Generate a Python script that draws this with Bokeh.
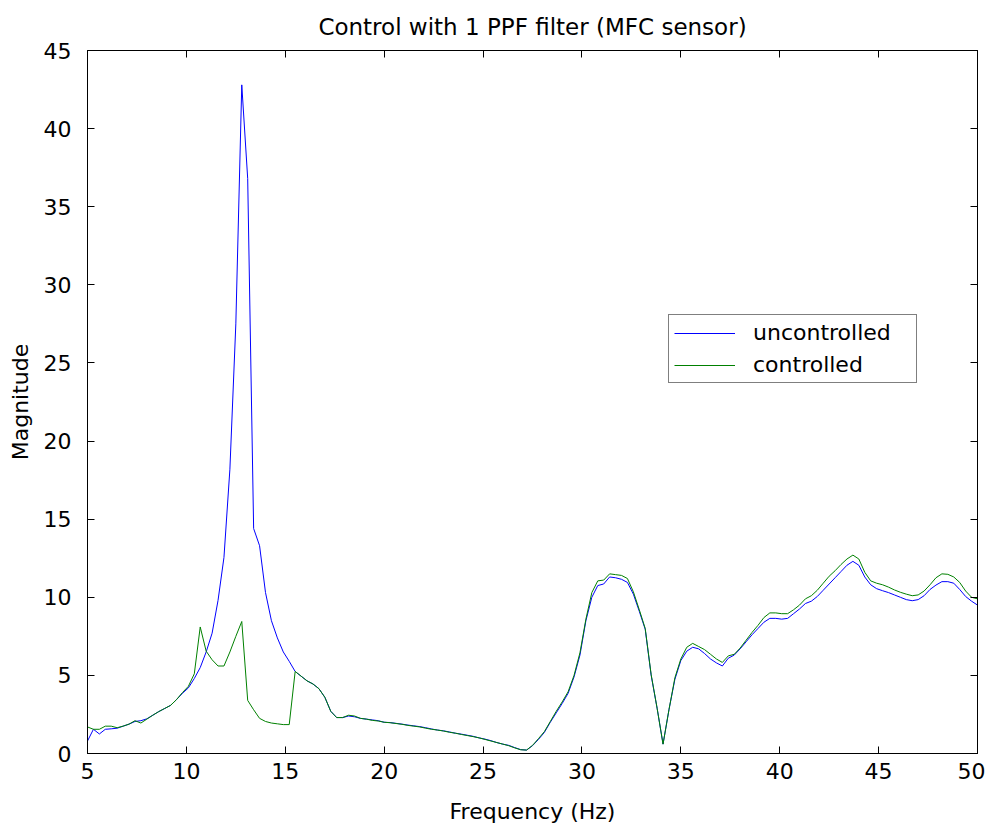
from bokeh.plotting import figure
from bokeh.models import Range1d, LinearAxis, FixedTicker, Legend, LegendItem
from bokeh.embed import file_html
from bokeh.resources import INLINE

title_text = "Control with 1 PPF filter (MFC sensor)"
x_label = "Frequency (Hz)"
y_label = "Magnitude"
x_min, x_max = 5, 50
y_min, y_max = 0, 45
x_ticks = [5, 10, 15, 20, 25, 30, 35, 40, 45, 50]
y_ticks = [0, 5, 10, 15, 20, 25, 30, 35, 40, 45]

frequency = [
    5.0, 5.3, 5.6, 5.9, 6.2, 6.5, 6.8, 7.1, 7.4, 7.7,
    8.0, 8.3, 8.6, 8.9, 9.2, 9.5, 9.8, 10.1, 10.4, 10.7,
    11.0, 11.3, 11.6, 11.9, 12.2, 12.5, 12.8, 13.1, 13.4, 13.7,
    14.0, 14.3, 14.6, 14.9, 15.2, 15.5, 15.8, 16.1, 16.4, 16.7,
    17.0, 17.3, 17.6, 17.9, 18.2, 18.5, 18.8, 19.1, 19.4, 19.7,
    20.0, 20.3, 20.6, 20.9, 21.2, 21.5, 21.8, 22.1, 22.4, 22.7,
    23.0, 23.3, 23.6, 23.9, 24.2, 24.5, 24.8, 25.1, 25.4, 25.7,
    26.0, 26.3, 26.6, 26.9, 27.2, 27.5, 27.8, 28.1, 28.4, 28.7,
    29.0, 29.3, 29.6, 29.9, 30.2, 30.5, 30.8, 31.1, 31.4, 31.7,
    32.0, 32.3, 32.6, 32.9, 33.2, 33.5, 33.8, 34.1, 34.4, 34.7,
    35.0, 35.3, 35.6, 35.9, 36.2, 36.5, 36.8, 37.1, 37.4, 37.7,
    38.0, 38.3, 38.6, 38.9, 39.2, 39.5, 39.8, 40.1, 40.4, 40.7,
    41.0, 41.3, 41.6, 41.9, 42.2, 42.5, 42.8, 43.1, 43.4, 43.7,
    44.0, 44.3, 44.6, 44.9, 45.2, 45.5, 45.8, 46.1, 46.4, 46.7,
    47.0, 47.3, 47.6, 47.9, 48.2, 48.5, 48.8, 49.1, 49.4, 49.7,
    50.0,
]

uncontrolled = [
    0.8, 1.55, 1.25, 1.55, 1.58, 1.62, 1.75, 1.88, 2.05, 2.1,
    2.22, 2.45, 2.68, 2.88, 3.08, 3.45, 3.85, 4.2, 4.8, 5.5,
    6.5, 7.7, 9.8, 12.55, 18.2, 27.5, 42.8, 36.8, 14.4, 13.3,
    10.3, 8.5, 7.4, 6.5, 5.9, 5.25, 4.95, 4.65, 4.45, 4.15,
    3.6, 2.7, 2.3, 2.3, 2.4, 2.35, 2.25, 2.2, 2.15, 2.1,
    2.0, 1.98, 1.93, 1.88, 1.82, 1.77, 1.72, 1.65, 1.57, 1.5,
    1.45, 1.38, 1.3, 1.24, 1.17, 1.1, 1.0, 0.92, 0.82, 0.7,
    0.6, 0.52, 0.38, 0.25, 0.22, 0.5, 0.9, 1.35, 2.0, 2.6,
    3.2, 3.85, 4.9, 6.3, 8.5, 10.0, 10.75, 10.85, 11.3, 11.25,
    11.15, 10.95, 10.2, 9.1, 7.95, 5.0, 2.9, 0.6, 2.8, 4.75,
    5.95, 6.55, 6.8, 6.7, 6.4, 6.05, 5.8, 5.6, 6.1, 6.3,
    6.7, 7.15, 7.6, 8.0, 8.4, 8.65, 8.65, 8.6, 8.65, 8.95,
    9.25, 9.6, 9.75, 10.05, 10.45, 10.85, 11.25, 11.65, 12.05, 12.3,
    12.05, 11.3, 10.8, 10.55, 10.42, 10.3, 10.15, 10.0, 9.85, 9.78,
    9.85, 10.1, 10.5, 10.78, 11.0, 11.0, 10.9, 10.5, 10.05, 9.75,
    9.5,
]

controlled = [
    1.7, 1.55, 1.55, 1.75, 1.75, 1.65, 1.75, 1.88, 2.1, 1.95,
    2.2, 2.45, 2.68, 2.88, 3.08, 3.45, 3.9, 4.3, 5.1, 8.1,
    6.55, 6.0, 5.6, 5.6, 6.5, 7.5, 8.45, 3.4, 2.8, 2.25,
    2.05, 1.95, 1.9, 1.85, 1.85, 5.25, 4.95, 4.65, 4.45, 4.15,
    3.6, 2.7, 2.3, 2.3, 2.45, 2.4, 2.25, 2.2, 2.12, 2.08,
    2.0, 1.97, 1.92, 1.87, 1.8, 1.75, 1.7, 1.62, 1.55, 1.5,
    1.44, 1.36, 1.3, 1.22, 1.15, 1.08, 1.0, 0.9, 0.8, 0.7,
    0.6, 0.5, 0.36, 0.24, 0.22, 0.52, 0.95, 1.4, 2.05, 2.7,
    3.3, 3.95, 5.0, 6.45, 8.6, 10.3, 11.05, 11.1, 11.5, 11.45,
    11.4, 11.2, 10.35, 9.2, 8.0, 5.05, 2.9, 0.6, 2.8, 4.85,
    6.05, 6.8, 7.05, 6.85, 6.65, 6.35, 6.05, 5.83, 6.25, 6.35,
    6.75, 7.25, 7.75, 8.2, 8.7, 9.0, 9.0, 8.95, 8.95, 9.2,
    9.5, 9.9, 10.1, 10.45, 10.9, 11.35, 11.7, 12.1, 12.45, 12.7,
    12.45, 11.6, 11.05, 10.9, 10.8, 10.65, 10.47, 10.32, 10.2, 10.1,
    10.15, 10.4, 10.8, 11.25, 11.5, 11.47, 11.3, 10.95, 10.4, 10.0,
    9.9,
]

FONT = "DejaVu Sans"
FS = "22px"

p = figure(
    width=985, height=826,
    x_range=Range1d(x_min, x_max), y_range=Range1d(y_min, y_max),
    output_backend="svg", toolbar_location=None,
    min_border_left=87, min_border_right=8, min_border_top=50, min_border_bottom=73,
    title=title_text,
)
p.background_fill_color = "white"
p.border_fill_color = "white"
p.outline_line_color = "black"
p.xgrid.visible = False
p.ygrid.visible = False

p.title.text_font = FONT
p.title.text_font_size = "23px"
p.title.text_font_style = "normal"
p.title.align = "center"
p.title.text_color = "black"
p.title.text_line_height = 0.6
p.title.standoff = 21


def style_axis(ax, ticks, show_labels):
    ax.ticker = FixedTicker(ticks=ticks)
    ax.major_tick_in = 7
    ax.major_tick_out = 0
    ax.minor_tick_line_color = None
    ax.axis_line_color = "black"
    ax.major_tick_line_color = "black"
    ax.major_label_text_font = FONT
    if show_labels:
        ax.major_label_text_font_size = FS
        ax.major_label_text_color = "black"
    else:
        ax.major_label_text_font_size = "1px"
        ax.major_label_text_color = None
        ax.major_label_standoff = 0


style_axis(p.xaxis[0], x_ticks, True)
style_axis(p.yaxis[0], y_ticks, True)
p.xaxis[0].axis_label = x_label
p.yaxis[0].axis_label = y_label
for ax in (p.xaxis[0], p.yaxis[0]):
    ax.axis_label_text_font = FONT
    ax.axis_label_text_font_size = FS
    ax.axis_label_text_font_style = "normal"
    ax.axis_label_text_color = "black"
p.xaxis[0].major_label_standoff = 9
p.xaxis[0].axis_label_standoff = 17
p.yaxis[0].major_label_standoff = 16
p.yaxis[0].axis_label_standoff = 8

right_ax = LinearAxis()
style_axis(right_ax, y_ticks, False)
p.add_layout(right_ax, "right")
top_ax = LinearAxis()
style_axis(top_ax, x_ticks, False)
p.add_layout(top_ax, "above")

r1 = p.line(frequency, uncontrolled, line_color="#0000ff", line_width=1)
r2 = p.line(frequency, controlled, line_color="#008000", line_width=1)

legend = Legend(
    items=[LegendItem(label="uncontrolled", renderers=[r1]),
           LegendItem(label="controlled", renderers=[r2])],
    location=(581, 370),
)
legend.border_line_color = "black"
legend.border_line_width = 1
legend.background_fill_color = "white"
legend.background_fill_alpha = 1
legend.label_text_font = FONT
legend.label_text_font_size = FS
legend.label_text_color = "black"
legend.glyph_width = 61
legend.label_standoff = 18
legend.label_width = 158
legend.padding = 5
legend.spacing = 7
legend.margin = 0
p.add_layout(legend)

open("out.html", "w").write(file_html(p, INLINE))
